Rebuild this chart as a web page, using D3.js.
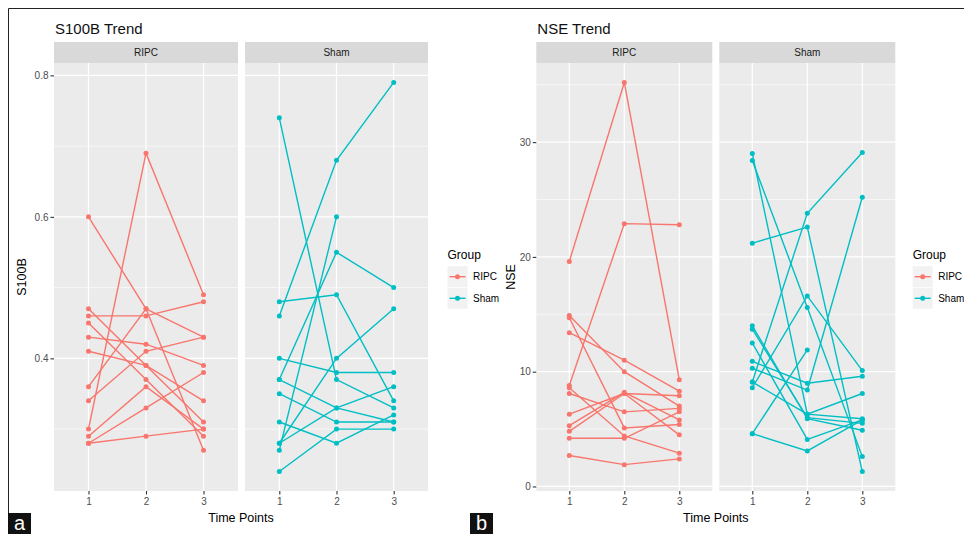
<!DOCTYPE html>
<html>
<head>
<meta charset="utf-8">
<script src="https://cdn.jsdelivr.net/npm/d3@7"></script>
<style>
  body { margin: 0; background: #fff; }
  svg { display: block; font-family: "Liberation Sans", Arial, sans-serif; }
</style>
</head>
<body>
<svg id="chart" width="964" height="534"></svg>
<script>
const timePoints = [1, 2, 3];
const groups = ['RIPC', 'Sham'];
const groupColors = ['#F8766D', '#00BFC4'];

// one row per subject: value at time point 1, 2, 3 (null = missing)
const s100bRipc = [
    [0.30, 0.69, 0.49],
    [0.60, 0.47, 0.27],
    [0.36, 0.47, 0.43],
    [0.46, 0.46, 0.48],
    [0.47, 0.39, 0.31],
    [0.45, 0.37, 0.29],
    [0.43, 0.42, 0.39],
    [0.41, 0.39, 0.34],
    [0.34, 0.41, 0.43],
    [0.29, 0.36, 0.30],
    [0.28, 0.33, 0.38],
    [0.28, 0.29, 0.30]
];
const s100bSham = [
    [0.74, 0.37, 0.33],
    [0.46, 0.68, 0.79],
    [0.48, 0.49, 0.34],
    [0.40, 0.38, 0.38],
    [0.37, 0.55, 0.50],
    [0.37, 0.33, 0.31],
    [0.35, 0.31, 0.31],
    [0.31, 0.28, 0.32],
    [0.28, 0.40, 0.47],
    [0.28, 0.33, 0.36],
    [0.24, 0.30, 0.30],
    [0.27, 0.60, null]
];
const nseRipc = [
    [19.6, 35.2, 9.3],
    [8.8, 22.9, 22.8],
    [14.9, 10.0, 7.0],
    [14.7, 5.1, 5.4],
    [13.4, 11.0, 8.3],
    [8.6, 4.4, 2.9],
    [8.1, 6.5, 6.8],
    [6.3, 8.1, 7.9],
    [5.3, 8.2, 5.8],
    [4.8, 8.1, 4.5],
    [4.2, 4.2, 6.5],
    [2.7, 1.9, 2.4]
];
const nseSham = [
    [29.0, 6.3, 5.9],
    [28.4, 15.6, 2.6],
    [21.2, 22.6, 1.3],
    [9.1, 23.8, 29.1],
    [10.3, 8.4, 25.2],
    [4.6, 11.9, null],
    [4.6, 3.1, 5.8],
    [8.6, 16.6, 10.1],
    [13.7, 6.0, 5.5],
    [12.5, 4.1, 5.8],
    [10.9, 9.0, 9.6],
    [14.0, 5.9, 4.9],
    [9.1, 6.3, 8.1]
];
const s100bTicks = [0.4, 0.6, 0.8];
const s100bMinor = [0.3, 0.5, 0.7];
const nseTicks = [0, 10, 20, 30];
const nseMinor = [5, 15, 25, 35];

const svg = d3.select('#chart');
const panelTop = 63;
const panelBottom = 491;
const font = '"Liberation Sans", Arial, sans-serif';

// figure frame: top and left edges only
svg.append('path')
    .attr('d', 'M8.5,534 V8.5 H964')
    .attr('fill', 'none')
    .attr('stroke', '#222')
    .attr('stroke-width', 1);

function drawTrend(cfg) {
    const all = cfg.data.flat(2).filter(v => v != null);
    const [lo, hi] = d3.extent(all);
    const pad = (hi - lo) * 0.05; // ggplot default expansion
    const y = d3.scaleLinear().domain([ lo - pad, hi + pad ]).range([ panelBottom, panelTop ]);

    svg.append('text')
        .attr('x', cfg.panels[0][0] + 1)
        .attr('y', 34)
        .attr('font-size', 15)
        .attr('fill', '#111')
        .text(cfg.title);

    groups.forEach((grp, i) => {
        const [x0, x1] = cfg.panels[i];
        const x = d3.scalePoint().domain(timePoints).range([ x0, x1 ]).padding(0.6);
        const g = svg.append('g');

        // strip
        g.append('rect')
            .attr('x', x0).attr('y', 42)
            .attr('width', x1 - x0).attr('height', panelTop - 42)
            .attr('fill', '#D9D9D9');
        g.append('text')
            .attr('x', (x0 + x1) / 2).attr('y', 52.5)
            .attr('dy', '0.35em')
            .attr('text-anchor', 'middle')
            .attr('font-size', 10)
            .attr('fill', '#1A1A1A')
            .text(grp);

        // panel background + grid
        g.append('rect')
            .attr('x', x0).attr('y', panelTop)
            .attr('width', x1 - x0).attr('height', panelBottom - panelTop)
            .attr('fill', '#EBEBEB');
        g.selectAll('.minor').data(cfg.minor.filter(v => y(v) > panelTop && y(v) < panelBottom))
            .join('line')
            .attr('x1', x0).attr('x2', x1)
            .attr('y1', d => y(d)).attr('y2', d => y(d))
            .attr('stroke', '#fff').attr('stroke-width', 0.6);
        g.selectAll('.major').data(cfg.ticks)
            .join('line')
            .attr('x1', x0).attr('x2', x1)
            .attr('y1', d => y(d)).attr('y2', d => y(d))
            .attr('stroke', '#fff').attr('stroke-width', 1.2);
        g.selectAll('.vgrid').data(timePoints)
            .join('line')
            .attr('x1', d => x(d)).attr('x2', d => x(d))
            .attr('y1', panelTop).attr('y2', panelBottom)
            .attr('stroke', '#fff').attr('stroke-width', 1.2);

        // subject lines
        const line = d3.line()
            .defined(v => v != null)
            .x((_v, j) => x(timePoints[j]))
            .y(v => y(v));
        const rows = cfg.data[i];
        g.selectAll('.subject').data(rows)
            .join('path')
            .attr('d', d => line(d))
            .attr('fill', 'none')
            .attr('stroke', groupColors[i])
            .attr('stroke-width', 1.4);
        const pts = [];
        rows.forEach(r => r.forEach((v, j) => { if (v != null) pts.push([ timePoints[j], v ]); }));
        g.selectAll('.pt').data(pts)
            .join('circle')
            .attr('cx', d => x(d[0]))
            .attr('cy', d => y(d[1]))
            .attr('r', 2.5)
            .attr('fill', groupColors[i]);

        // x axis
        const xa = g.append('g')
            .attr('transform', `translate(0,${panelBottom})`)
            .call(d3.axisBottom(x).tickSize(3.5).tickPadding(3.5));
        xa.select('.domain').remove();
        xa.selectAll('line').attr('stroke', '#333').attr('stroke-width', 1.1);
        xa.selectAll('text').attr('font-size', 10).attr('fill', '#4D4D4D').attr('font-family', font);

        if (i === 0) {
            const ya = g.append('g')
                .attr('transform', `translate(${x0},0)`)
                .call(d3.axisLeft(y).tickValues(cfg.ticks).tickFormat(cfg.format).tickSize(3.5).tickPadding(2));
            ya.select('.domain').remove();
            ya.selectAll('line').attr('stroke', '#333').attr('stroke-width', 1.1);
            ya.selectAll('text').attr('font-size', 10).attr('fill', '#4D4D4D').attr('font-family', font);
        }
    });

    // axis titles
    const midX = (cfg.panels[0][0] + cfg.panels[1][1]) / 2;
    svg.append('text')
        .attr('x', midX).attr('y', 522)
        .attr('text-anchor', 'middle')
        .attr('font-size', 12.5)
        .attr('fill', '#000')
        .text('Time Points');
    svg.append('text')
        .attr('transform', `translate(${cfg.yTitleX},${(panelTop + panelBottom) / 2}) rotate(-90)`)
        .attr('text-anchor', 'middle')
        .attr('font-size', 12.5)
        .attr('fill', '#000')
        .text(cfg.yTitle);

    // legend
    const lx = cfg.legendX;
    svg.append('text')
        .attr('x', lx).attr('y', 258.5)
        .attr('font-size', 12)
        .attr('fill', '#000')
        .text('Group');
    groups.forEach((grp, i) => {
        const cy = 276.7 + i * 21.6;
        svg.append('rect')
            .attr('x', lx).attr('y', cy - 10.5)
            .attr('width', 20).attr('height', 21)
            .attr('fill', '#F2F2F2');
        svg.append('line')
            .attr('x1', lx + 2).attr('x2', lx + 18)
            .attr('y1', cy).attr('y2', cy)
            .attr('stroke', groupColors[i]).attr('stroke-width', 1.4);
        svg.append('circle')
            .attr('cx', lx + 10).attr('cy', cy).attr('r', 2.5)
            .attr('fill', groupColors[i]);
        svg.append('text')
            .attr('x', lx + 25.5).attr('y', cy)
            .attr('dy', '0.35em')
            .attr('font-size', 10)
            .attr('fill', '#000')
            .text(grp);
    });

    // panel letter
    svg.append('rect')
        .attr('x', cfg.labelX).attr('y', 513)
        .attr('width', 23).attr('height', 21)
        .attr('fill', '#111');
    svg.append('text')
        .attr('x', cfg.labelX + 11.5).attr('y', 530)
        .attr('text-anchor', 'middle')
        .attr('font-size', 20)
        .attr('fill', '#fff')
        .text(cfg.label);
}

drawTrend({
    title: 'S100B Trend',
    yTitle: 'S100B',
    yTitleX: 26,
    panels: [ [ 54, 238 ], [ 245, 428 ] ],
    data: [ s100bRipc, s100bSham ],
    ticks: s100bTicks,
    minor: s100bMinor,
    format: d3.format('.1f'),
    legendX: 447.5,
    label: 'a',
    labelX: 8
});

drawTrend({
    title: 'NSE Trend',
    yTitle: 'NSE',
    yTitleX: 515,
    panels: [ [ 536.3, 712.3 ], [ 719.3, 895.3 ] ],
    data: [ nseRipc, nseSham ],
    ticks: nseTicks,
    minor: nseMinor,
    format: d3.format('d'),
    legendX: 912.7,
    label: 'b',
    labelX: 470
});
</script>
</body>
</html>
